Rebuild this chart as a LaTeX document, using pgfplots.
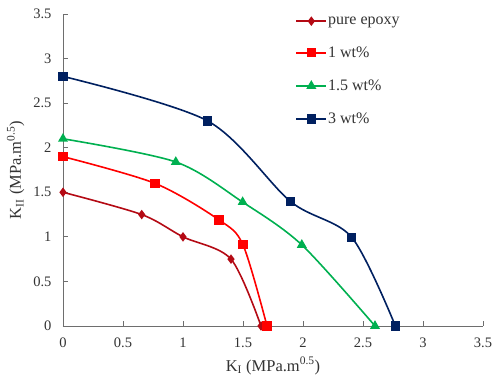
\documentclass[border=0pt]{standalone}
\usepackage{pgfplots}
\pgfplotsset{compat=1.18}
\usepackage{fontspec}
\setmainfont{Liberation Serif}
\definecolor{cPure}{RGB}{180,10,20}
\definecolor{cOne}{RGB}{255,0,0}
\definecolor{cOneFive}{RGB}{0,176,80}
\definecolor{cThree}{RGB}{0,32,96}
\definecolor{axgray}{RGB}{110,110,110}
\begin{document}
\begin{tikzpicture}
\begin{axis}[name=ax,
  scale only axis, width=420pt, height=312pt,
  xmin=0, xmax=3.5, ymin=0, ymax=3.5,
  axis x line*=bottom, axis y line*=left,
  axis line style={axgray, line width=0.8pt},
  tick style={axgray, line width=0.8pt},
  tick align=inside, major tick length=5pt,
  xtick={0,0.5,...,3.5}, ytick={0,0.5,...,3.5},
  /pgf/number format/assume math mode=true,
  /pgf/number format/fixed,
  ticklabel style={font=\fontsize{14.5}{16}\selectfont, text=black!80},
  xticklabel style={yshift=-8pt},
  yticklabel style={xshift=-8pt},
  xlabel={K\textsubscript{I} (MPa.m\textsuperscript{0.5})},
  ylabel={K\textsubscript{II} (MPa.m\textsuperscript{0.5})},
  label style={font=\fontsize{16.5}{18}\selectfont, text=black!80},
  xlabel style={yshift=-3pt},
  ylabel style={yshift=2pt},
  legend style={draw=none, fill=none, at={(rel axis cs:0.546,1.005)}, anchor=north west,
    font=\fontsize{16}{18}\selectfont, text=black!80, row sep=17pt,
    nodes={inner xsep=1pt}},
  legend cell align=left,
  legend image code/.code={\draw[mark repeat=2,mark phase=2] plot coordinates {(0pt,0pt) (15pt,0pt) (30pt,0pt)};},
  every axis plot/.append style={line width=1.6pt, smooth, tension=0.5},
]
\addplot[cPure, mark=diamond*, mark size=3.5pt, mark options={solid}] coordinates {
 (0,1.5) (0.656,1.25) (1.0,1.0) (1.4,0.75) (1.65,0)};
\addlegendentry{pure epoxy}
\addplot[cOne, mark=square*, mark size=3.8pt] coordinates {
 (0,1.9) (0.767,1.6) (1.3,1.19) (1.5,0.91) (1.7,0)};
\addlegendentry{1 wt\%}
\addplot[cOneFive, mark=triangle*, mark size=4.2pt] coordinates {
 (0,2.1) (0.94,1.84) (1.497,1.39) (1.99,0.91) (2.6,0)};
\addlegendentry{1.5 wt\%}
\addplot[cThree, mark=square*, mark size=3.8pt] coordinates {
 (0,2.8) (1.206,2.3) (1.897,1.395) (2.406,0.995) (2.77,0)};
\addlegendentry{3 wt\%}
\end{axis}
\pgfresetboundingbox
\path ([xshift=-63pt,yshift=-55pt]ax.south west) rectangle ([xshift=10pt,yshift=14pt]ax.north east);
\end{tikzpicture}
\end{document}
